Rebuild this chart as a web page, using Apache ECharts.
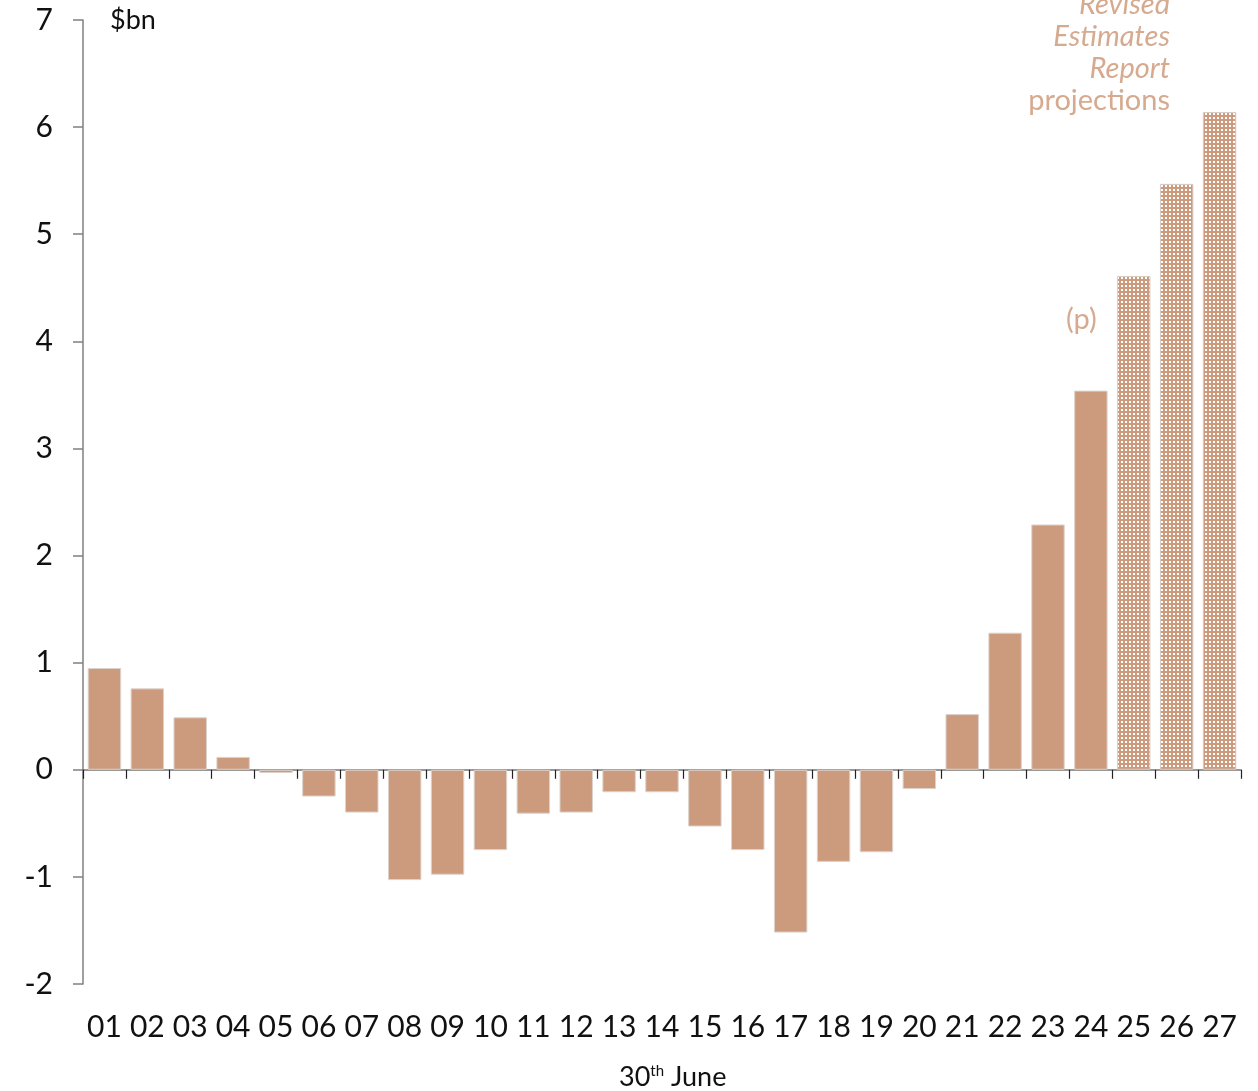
<!DOCTYPE html>
<html>
<head>
<meta charset="utf-8">
<script src="https://cdn.jsdelivr.net/npm/echarts@6/dist/echarts.min.js"></script>
<style>
html, body { margin: 0; padding: 0; background: #fff; }
#main { width: 1258px; height: 1091px; }
</style>
</head>
<body>
<div id="main"></div>
<script>
// years ending 30th June
var years = ['01', '02', '03', '04', '05', '06', '07', '08', '09', '10', '11', '12', '13', '14',
    '15', '16', '17', '18', '19', '20', '21', '22', '23', '24', '25', '26', '27'];
var values = [0.95, 0.76, 0.49, 0.12, -0.03, -0.25, -0.40, -1.03, -0.98, -0.75, -0.41, -0.40, -0.21, -0.21,
    -0.53, -0.75, -1.52, -0.86, -0.77, -0.18, 0.52, 1.28, 2.29, 3.54, 4.61, 5.47, 6.14];
// years from here on are projections
var firstProjected = '25';
var yTicks = [-2, -1, 0, 1, 2, 3, 4, 5, 6, 7];

var barColor = '#cc9b7e';
var noteColor = '#d6aa8f';
var fontFace = 'Lato, "Liberation Sans", sans-serif';

// dotted fill for the projected bars
var cv = document.createElement('canvas');
cv.width = 4; cv.height = 4;
var ctx = cv.getContext('2d');
ctx.fillStyle = barColor;
ctx.fillRect(0, 0, 4, 4);
ctx.fillStyle = '#ffffff';
ctx.fillRect(1, 1, 2, 2);

var startIdx = years.indexOf(firstProjected);
var barData = values.map(function (v, i) {
    if (i >= startIdx) {
        return { value: v, itemStyle: { color: { image: cv, repeat: 'repeat' }, borderColor: '#d9ccc4', borderWidth: 1 } };
    }
    return v;
});

var chart = echarts.init(document.getElementById('main'));

var option = {
    animation: false,
    grid: { left: 83, right: 17, top: 20, bottom: 107 },
    xAxis: [{
        type: 'category',
        data: years,
        axisLine: { onZero: true, lineStyle: { color: '#777', width: 1.5 } },
        axisTick: { show: true, length: 9, lineStyle: { color: '#222', width: 1.2 } },
        axisLabel: { show: false }
    }, {
        type: 'category',
        data: years,
        position: 'bottom',
        axisLine: { show: false },
        axisTick: { show: false },
        axisLabel: { interval: 0, margin: 28, fontSize: 30, color: '#111', fontFamily: fontFace }
    }],
    yAxis: {
        type: 'value',
        min: yTicks[0],
        max: yTicks[yTicks.length - 1],
        interval: 1,
        splitLine: { show: false },
        axisLine: { show: true, lineStyle: { color: '#808080', width: 1.5 } },
        axisTick: { show: true, inside: false, length: 10, lineStyle: { color: '#808080', width: 1.5 } },
        axisLabel: { margin: 30, fontSize: 30, color: '#111', fontFamily: fontFace }
    },
    graphic: [{
        type: 'text', left: 110, top: 7,
        style: { text: '$bn', fontSize: 27, fill: '#111', fontFamily: fontFace }
    }, {
        type: 'text', right: 88, top: -10,
        style: {
            text: '{i|Revised}\n{i|Estimates}\n{i|Report}\n{n|projections}',
            align: 'right',
            rich: {
                i: { fontSize: 29, fontStyle: 'italic', fill: noteColor, lineHeight: 32, fontFamily: fontFace, align: 'right' },
                n: { fontSize: 29, fill: noteColor, lineHeight: 32, fontFamily: fontFace, align: 'right' }
            }
        }
    }, {
        type: 'text', left: 1066, top: 305,
        style: { text: '(p)', fontSize: 29, fill: noteColor, fontFamily: fontFace }
    }, {
        type: 'text', left: 619, top: 1064,
        style: {
            text: '30{sup|th} June',
            fontSize: 27, fill: '#111', fontFamily: fontFace,
            rich: { sup: { fontSize: 15, verticalAlign: 'top', padding: [0, 0, 12, 0], fill: '#111', fontFamily: fontFace } }
        }
    }],
    series: [{
        type: 'bar',
        xAxisIndex: 0,
        data: barData,
        barCategoryGap: '22%',
        itemStyle: { color: barColor, borderColor: '#ddd3cd', borderWidth: 1 }
    }]
};

chart.setOption(option);
</script>
</body>
</html>
